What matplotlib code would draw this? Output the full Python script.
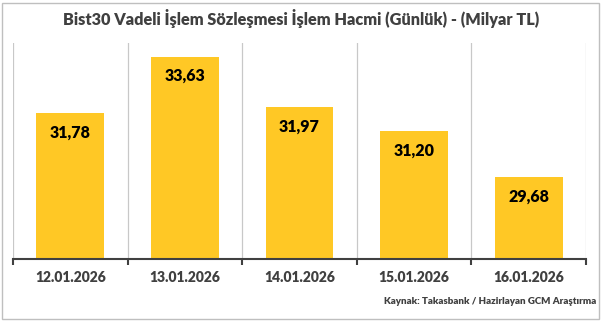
import numpy as np
import matplotlib.pyplot as plt
from matplotlib.patches import Rectangle

dates = ['12.01.2026', '13.01.2026', '14.01.2026', '15.01.2026', '16.01.2026']
values = [31.78, 33.63, 31.97, 31.20, 29.68]
labels = ['31,78', '33,63', '31,97', '31,20', '29,68']

plt.rcParams['font.family'] = ['Lato', 'DejaVu Sans']

fig = plt.figure(figsize=(6.02, 3.21), dpi=100)
ax = fig.add_axes([13 / 602, 1 - 259 / 321, 573 / 602, 216 / 321])

x = np.arange(len(dates))
ax.bar(x, values, width=0.59, color='#FFC825', zorder=2)
ax.set_xlim(-0.5, len(dates) - 0.5)
ax.set_ylim(27, 34.08)

for xi, v, lab in zip(x, values, labels):
    ax.annotate(lab, (xi, v), xytext=(0, -14), textcoords='offset points',
                ha='center', va='center', fontsize=11.5, fontweight='heavy', color='black')

# vertical separators between categories
for b in np.arange(-0.5, len(dates), 1.0):
    ax.axvline(b, color='#c8c8c8', lw=0.9, zorder=1)

ax.set_xticks(x)
ax.set_xticklabels(dates, fontsize=10, fontweight='heavy', color='#404040')
ax.set_xticks(np.arange(-0.5, len(dates), 1.0), minor=True)
ax.tick_params(axis='x', which='major', length=0, pad=9)
ax.tick_params(axis='x', which='minor', length=4, width=1.5, color='#404040')
ax.set_yticks([])
for s in ['top', 'left', 'right']:
    ax.spines[s].set_visible(False)
ax.spines['bottom'].set_color('#404040')
ax.spines['bottom'].set_linewidth(1.5)

fig.text(0.5, 1 - 19 / 321, 'Bist30 Vadeli İşlem Sözleşmesi İşlem Hacmi (Günlük) - (Milyar TL)',
         ha='center', va='center', fontsize=11.7, fontweight='heavy', color='#404040')
fig.text(596 / 602, 1 - 301 / 321, 'Kaynak: Takasbank / Hazirlayan GCM Araştırma',
         ha='right', va='center', fontsize=7, fontweight='heavy', color='#404040')

fig.patches.append(Rectangle((2 / 602, 2 / 321), 597 / 602, 316 / 321, transform=fig.transFigure,
                             fill=False, edgecolor='#bfbfbf', lw=1))

plt.savefig('out.png', dpi=100)
